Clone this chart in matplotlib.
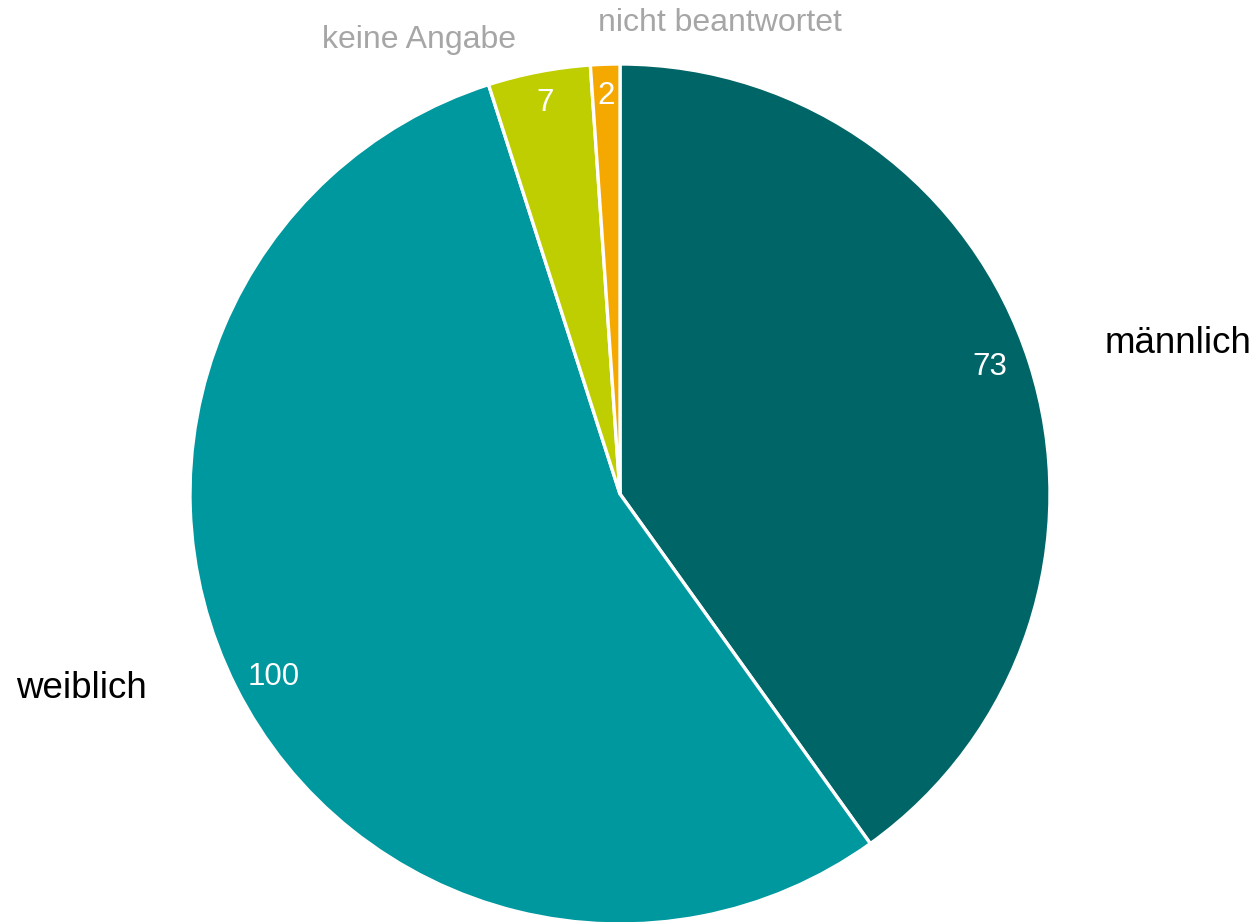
import numpy as np
import matplotlib
matplotlib.use("Agg")
from matplotlib import pyplot as plt

plt.rcParams['font.family'] = ['Liberation Sans', 'DejaVu Sans']

labels = ["männlich", "weiblich", "keine Angabe", "nicht beantwortet"]
values = [73, 100, 7, 2]
colors = ["#006567", "#00989F", "#BFCE00", "#F5A800"]
label_colors = ["black", "black", "#A6A6A6", "#A6A6A6"]
label_sizes = [26.5, 26.5, 23, 23]

fig = plt.figure(figsize=(12.58, 9.22), dpi=100)
ax = fig.add_axes([0, 0, 1, 1])
ax.axis("off")

cx, cy, r = 620, 922 - 494, 430
wedges, _ = ax.pie(values, colors=colors, startangle=90, counterclock=False,
                   center=(cx, cy), radius=r,
                   wedgeprops=dict(edgecolor="white", linewidth=2.4))
ax.set_xlim(0, 1258)
ax.set_ylim(0, 922)
ax.set_aspect("equal")

# value labels inside, near the rim
for w, v in zip(wedges, values):
    mid = (w.theta1 + w.theta2) / 2
    if v > 10:
        a, d = np.deg2rad(mid + 1.1), 0.91
    else:
        a, d = np.deg2rad(mid), 0.925
    ax.text(cx + r * d * np.cos(a), cy + r * d * np.sin(a), str(v),
            ha="center", va="center", color="white", fontsize=22.5)

# outer labels (angle in degrees, distance in radii, alignment)
outer = [(17.2, 1.18, "left"), (202.3, 1.19, "right"),
         (113.9, 1.155, "center"), (78.0, 1.12, "center")]
for (ang, d, ha), lab, c, fs in zip(outer, labels, label_colors, label_sizes):
    a = np.deg2rad(ang)
    ax.text(cx + r * d * np.cos(a), cy + r * d * np.sin(a), lab,
            ha=ha, va="center", color=c, fontsize=fs)

fig.savefig("out.png", dpi=100)
